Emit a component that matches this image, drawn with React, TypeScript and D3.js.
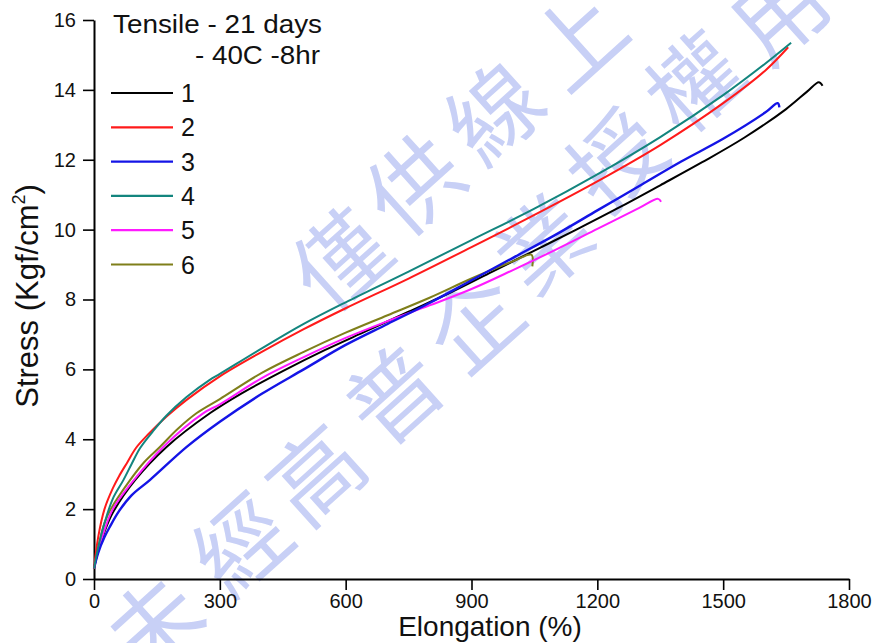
import React, { useEffect, useRef } from 'react';
import * as d3 from 'd3';

const W = 877;
const H = 643;
const X0 = 94;
const X1 = 849;
const Y0 = 579;
const Y1 = 20;

const xTicks = [0, 300, 600, 900, 1200, 1500, 1800];
const yTicks = [0, 2, 4, 6, 8, 10, 12, 14, 16];

const legendTitle1 = 'Tensile - 21 days';
const legendTitle2 = '- 40C -8hr';
const seriesNames = ['1', '2', '3', '4', '5', '6'];
const seriesColors = ['#000000', '#ff1a1a', '#1414e6', '#13857e', '#ff1aff', '#7f7f1a'];

// Elongation (%) / stress (Kgf/cm²) pairs for each specimen
const elong1 = [0, 10, 25, 45, 98, 173, 277, 350, 450, 550, 650, 750, 850, 950, 1050, 1150, 1250, 1350, 1450, 1550, 1650, 1700, 1728, 1737];
const stress1 = [0.3, 0.8, 1.35, 1.9, 2.83, 3.78, 4.75, 5.3, 5.95, 6.55, 7.1, 7.65, 8.2, 8.8, 9.4, 10.0, 10.62, 11.27, 11.93, 12.63, 13.45, 13.95, 14.22, 14.12];

const elong2 = [0, 10, 25, 45, 60, 80, 100, 130, 173, 220, 300, 400, 500, 600, 750, 900, 1050, 1200, 1350, 1500, 1600, 1655];
const stress2 = [0.3, 1.2, 2.0, 2.6, 2.95, 3.35, 3.75, 4.15, 4.65, 5.12, 5.8, 6.5, 7.15, 7.75, 8.6, 9.5, 10.42, 11.38, 12.42, 13.62, 14.55, 15.22];

const elong3 = [0, 10, 25, 38, 60, 90, 133, 221, 300, 400, 500, 600, 700, 800, 900, 1000, 1100, 1200, 1300, 1400, 1500, 1600, 1630, 1634];
const stress3 = [0.3, 0.75, 1.2, 1.5, 1.95, 2.4, 2.83, 3.78, 4.5, 5.3, 6.0, 6.7, 7.3, 7.9, 8.55, 9.2, 9.85, 10.55, 11.25, 11.95, 12.6, 13.35, 13.62, 13.5];

const elong4 = [0, 10, 25, 45, 70, 90, 110, 140, 173, 220, 276, 300, 400, 500, 600, 750, 900, 1050, 1200, 1350, 1500, 1600, 1662];
const stress4 = [0.3, 0.9, 1.6, 2.3, 2.83, 3.3, 3.75, 4.22, 4.68, 5.2, 5.7, 5.87, 6.6, 7.3, 7.92, 8.8, 9.7, 10.6, 11.58, 12.65, 13.85, 14.75, 15.35];

const elong5 = [0, 10, 25, 45, 95, 165, 261, 300, 400, 500, 600, 700, 800, 900, 1000, 1100, 1200, 1300, 1345, 1352];
const stress5 = [0.3, 0.8, 1.4, 2.0, 2.83, 3.78, 4.75, 5.0, 5.75, 6.35, 6.9, 7.38, 7.83, 8.3, 8.85, 9.42, 10.02, 10.62, 10.88, 10.8];

const elong6 = [0, 10, 25, 40, 86, 120, 157, 200, 245, 300, 400, 500, 600, 700, 800, 900, 1000, 1043, 1045];
const stress6 = [0.3, 0.9, 1.6, 2.0, 2.83, 3.35, 3.78, 4.3, 4.75, 5.15, 5.9, 6.5, 7.05, 7.55, 8.05, 8.6, 9.1, 9.28, 8.95];

const elongations = [elong1, elong2, elong3, elong4, elong5, elong6];
const stresses = [stress1, stress2, stress3, stress4, stress5, stress6];

// Diagonal background stamp text
const stampChars = ['僅', '供', '線', '上', '未', '經', '高', '普', '企', '業', '授', '權', '用'];
const stampX = [336, 410, 490, 573, 150, 237, 312, 390, 470, 540, 612, 690, 775];
const stampY = [255, 180, 108, 35, 620, 540, 470, 390, 318, 240, 155, 78, 8];

const FONT = '"Liberation Sans", Arial, sans-serif';

export default function App() {
  const ref = useRef<SVGSVGElement | null>(null);

  useEffect(() => {
    const svg = d3.select(ref.current);
    svg.selectAll('*').remove();

    const x = d3.scaleLinear().domain([0, 1800]).range([X0, X1]);
    const y = d3.scaleLinear().domain([0, 16]).range([Y0, Y1]);

    svg.append('rect').attr('width', W).attr('height', H).attr('fill', '#ffffff');

    // stamp
    const stamp = svg.append('g');
    stampChars.forEach((c, i) => {
      stamp
        .append('text')
        .attr('transform', `translate(${stampX[i]},${stampY[i]}) rotate(-42)`)
        .attr('text-anchor', 'middle')
        .attr('dominant-baseline', 'central')
        .attr('font-family', '"Noto Sans CJK TC", "Noto Sans CJK SC", sans-serif')
        .attr('font-size', 92)
        .attr('font-weight', 400)
        .attr('fill', '#c8d0f6')
        .text(c);
    });

    // axes
    const xAxis = d3
      .axisBottom(x)
      .tickValues(xTicks)
      .tickSize(11)
      .tickSizeOuter(0)
      .tickPadding(4)
      .tickFormat(d3.format('d'));
    const gx = svg.append('g').attr('transform', `translate(0,${Y0})`).call(xAxis);
    gx.select('.domain').attr('stroke-width', 2).attr('stroke', '#000');
    gx.selectAll('.tick line').attr('stroke-width', 1.6).attr('stroke', '#000');
    gx.selectAll('.tick text')
      .attr('font-family', FONT)
      .attr('font-size', 20)
      .attr('fill', '#111');

    const yAxis = d3
      .axisLeft(y)
      .tickValues(yTicks)
      .tickSize(11)
      .tickSizeOuter(0)
      .tickPadding(7)
      .tickFormat(d3.format('d'));
    const gy = svg.append('g').attr('transform', `translate(${X0},0)`).call(yAxis);
    gy.select('.domain').attr('stroke-width', 2).attr('stroke', '#000');
    gy.selectAll('.tick line').attr('stroke-width', 1.6).attr('stroke', '#000');
    gy.selectAll('.tick text')
      .attr('font-family', FONT)
      .attr('font-size', 20)
      .attr('fill', '#111');

    // curves
    const line = d3
      .line<[number, number]>()
      .x((d) => x(d[0]))
      .y((d) => y(d[1]))
      .curve(d3.curveCatmullRom.alpha(0.5));

    const order = [0, 5, 4, 2, 1, 3];
    order.forEach((i) => {
      const pts = elongations[i].map((e, k) => [e, stresses[i][k]] as [number, number]);
      svg
        .append('path')
        .attr('d', line(pts))
        .attr('fill', 'none')
        .attr('stroke', seriesColors[i])
        .attr('stroke-width', i === 2 ? 2.4 : 2)
        .attr('stroke-linejoin', 'round');
    });

    // legend
    const lg = svg.append('g');
    lg.append('text')
      .attr('x', 113)
      .attr('y', 33)
      .attr('font-family', FONT)
      .attr('font-size', 25)
      .attr('textLength', 209)
      .attr('lengthAdjust', 'spacingAndGlyphs')
      .attr('fill', '#111')
      .text(legendTitle1);
    lg.append('text')
      .attr('x', 195)
      .attr('y', 64)
      .attr('font-family', FONT)
      .attr('font-size', 25)
      .attr('textLength', 125)
      .attr('lengthAdjust', 'spacingAndGlyphs')
      .attr('fill', '#111')
      .text(legendTitle2);
    seriesNames.forEach((n, i) => {
      const ry = 93 + i * 34.3;
      lg.append('line')
        .attr('x1', 111)
        .attr('x2', 173)
        .attr('y1', ry)
        .attr('y2', ry)
        .attr('stroke', seriesColors[i])
        .attr('stroke-width', 2.2);
      lg.append('text')
        .attr('x', 181)
        .attr('y', ry + 9)
        .attr('font-family', FONT)
        .attr('font-size', 25)
        .attr('fill', '#111')
        .text(n);
    });

    // axis titles
    svg
      .append('text')
      .attr('x', 490)
      .attr('y', 636)
      .attr('text-anchor', 'middle')
      .attr('font-family', FONT)
      .attr('font-size', 28)
      .attr('fill', '#111')
      .text('Elongation (%)');

    const yt = svg
      .append('text')
      .attr('transform', 'translate(38,296) rotate(-90)')
      .attr('text-anchor', 'middle')
      .attr('font-family', FONT)
      .attr('font-size', 31)
      .attr('fill', '#111');
    yt.append('tspan').text('Stress (Kgf/cm');
    yt.append('tspan').attr('font-size', 18).attr('dy', -13).text('2');
    yt.append('tspan').attr('dy', 13).text(')');
  }, []);

  return (
    <svg
      ref={ref}
      width={W}
      height={H}
      style={{ position: 'absolute', left: 0, top: 0, display: 'block' }}
    />
  );
}
